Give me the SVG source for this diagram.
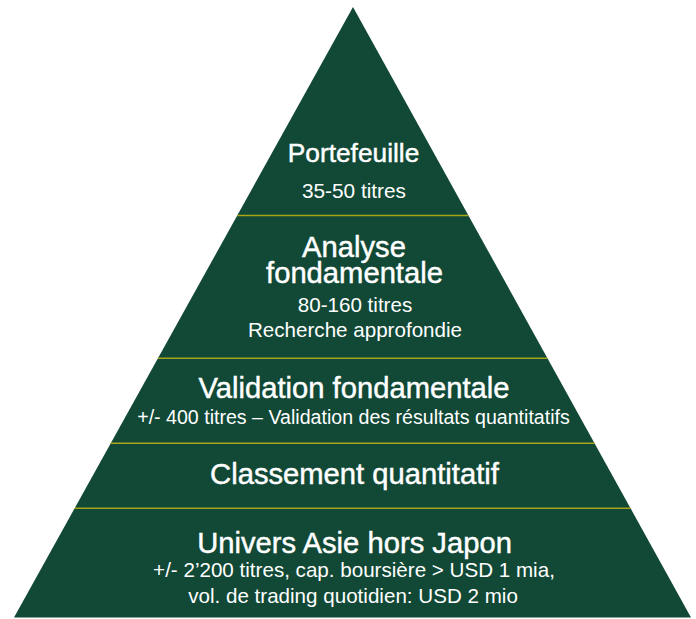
<svg xmlns="http://www.w3.org/2000/svg" width="696" height="619" viewBox="0 0 696 619">
  <defs>
    <clipPath id="tri">
      <polygon points="353,7 14,617.5 691,617.5"/>
    </clipPath>
    <style>
      .t { font-family: "Liberation Sans", Arial, Helvetica, sans-serif; fill: #ffffff; text-anchor: middle; }
      .h { font-size: 29.2px; stroke: #ffffff; stroke-width: 0.45px; }
      .s { font-size: 20.6px; }
      .div { stroke: #a8a41c; stroke-width: 1.6; fill: none; }
    </style>
  </defs>
  <rect width="696" height="619" fill="#ffffff"/>
  <polygon id="pyramid" points="353,7 14,617.5 691,617.5" fill="#114836"/>
  <g id="connectors" clip-path="url(#tri)">
    <line class="div" x1="0" y1="215.5" x2="696" y2="215.5"/>
    <line class="div" x1="0" y1="358.3" x2="696" y2="358.3"/>
    <line class="div" x1="0" y1="443.3" x2="696" y2="443.3"/>
    <line class="div" x1="0" y1="508.3" x2="696" y2="508.3"/>
  </g>
  <g id="portefeuille">
    <text class="t h" x="353.5" y="161.7" style="font-size:26.3px">Portefeuille</text>
    <text class="t s" x="354" y="198.3" style="font-size:20.8px">35-50 titres</text>
  </g>
  <g id="analyse">
    <text class="t h" x="354" y="257.3">Analyse</text>
    <text class="t h" x="354.5" y="283">fondamentale</text>
    <text class="t s" x="355" y="312.3">80-160 titres</text>
    <text class="t s" x="355" y="336.8">Recherche approfondie</text>
  </g>
  <g id="validation">
    <text class="t h" x="354" y="398.3">Validation fondamentale</text>
    <text class="t s" x="353.5" y="424.3" style="font-size:19.6px">+/- 400 titres – Validation des résultats quantitatifs</text>
  </g>
  <g id="classement">
    <text class="t h" x="354.5" y="484.3">Classement quantitatif</text>
  </g>
  <g id="univers">
    <text class="t h" x="354.5" y="553.3">Univers Asie hors Japon</text>
    <text class="t s" x="354" y="576.7">+/- 2’200 titres, cap. boursière &gt; USD 1 mia,</text>
    <text class="t s" x="353" y="603.3">vol. de trading quotidien: USD 2 mio</text>
  </g>
</svg>
